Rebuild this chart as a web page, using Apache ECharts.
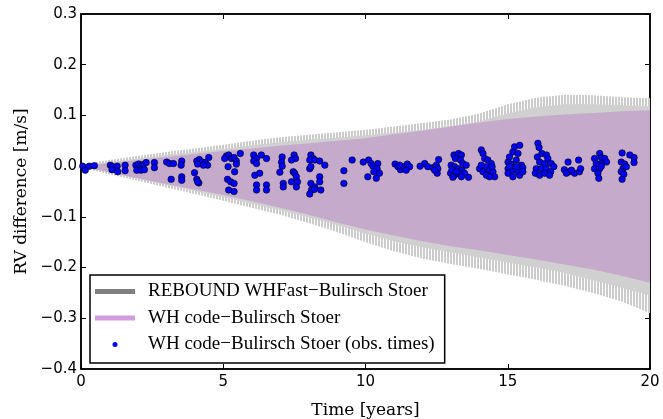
<!DOCTYPE html>
<html><head><meta charset="utf-8">
<script src="https://cdn.jsdelivr.net/npm/echarts@6/dist/echarts.min.js"></script>
<style>html,body{margin:0;padding:0;background:#fff}#c{width:663px;height:419px}</style>
</head><body><div id="c"></div>
<script>
// envelope sample times (years)
const envT = [0,1,2,3,4,5,6,7,8,9,10,11,12,13,14,15,16,17,18,19,20];
// REBOUND WHFast - Bulirsch Stoer: outer tips of the oscillation (m/s)
const grayUpper = [0.003,0.012,0.020,0.028,0.035,0.042,0.050,0.057,0.062,0.067,0.072,0.078,0.085,0.092,0.104,0.122,0.135,0.141,0.140,0.136,0.134];
const grayLower = [-0.003,-0.016,-0.029,-0.042,-0.055,-0.068,-0.082,-0.096,-0.112,-0.130,-0.150,-0.168,-0.182,-0.193,-0.203,-0.213,-0.224,-0.236,-0.250,-0.267,-0.290];
// REBOUND WHFast - Bulirsch Stoer: solid part of the oscillation (m/s)
const grayUpperBase = [0.001,0.008,0.015,0.022,0.028,0.034,0.041,0.047,0.052,0.056,0.061,0.066,0.072,0.078,0.088,0.104,0.116,0.122,0.122,0.120,0.118];
const grayLowerBase = [-0.001,-0.013,-0.025,-0.037,-0.049,-0.061,-0.074,-0.087,-0.101,-0.116,-0.133,-0.148,-0.160,-0.170,-0.180,-0.190,-0.200,-0.210,-0.225,-0.240,-0.255];
// WH code - Bulirsch Stoer envelope (m/s)
const whUpper = [0.000,0.006,0.012,0.018,0.024,0.030,0.035,0.040,0.045,0.050,0.055,0.063,0.070,0.078,0.086,0.093,0.098,0.102,0.105,0.108,0.110];
const whLower = [0.000,-0.012,-0.024,-0.035,-0.046,-0.057,-0.069,-0.082,-0.096,-0.111,-0.125,-0.137,-0.148,-0.158,-0.166,-0.175,-0.184,-0.194,-0.204,-0.216,-0.230];
// observation times (years) and RV difference (m/s)
const obsTimes = [0.06,0.15,0.29,0.47,1.03,1.10,1.17,1.27,1.29,1.09,1.55,1.55,1.93,2.03,2.11,2.19,2.29,1.96,2.11,2.23,2.58,2.58,3.01,3.11,3.25,3.54,3.52,3.17,3.54,3.54,4.07,4.16,4.26,4.37,4.45,4.49,4.30,4.10,3.99,4.07,4.14,4.10,
5.11,5.19,5.29,5.38,5.46,5.46,5.05,5.17,5.40,5.15,5.26,5.38,5.19,5.38,5.60,6.07,6.17,6.34,6.52,6.07,6.17,6.28,6.11,6.17,6.17,6.52,6.52,7.07,7.05,7.07,6.99,7.11,7.11,7.49,7.54,7.40,7.46,7.51,7.57,7.61,7.40,7.57,8.08,8.16,8.04,8.22,8.39,8.57,8.04,8.08,8.39,8.39,8.08,8.22,8.10,8.04,8.43,8.20,9.24,9.24,9.53,9.92,
10.11,10.08,10.20,10.26,10.43,10.41,10.49,10.38,10.29,11.04,11.14,11.23,11.35,11.47,11.55,11.43,11.20,11.92,12.08,12.19,12.37,12.49,12.57,12.54,12.52,12.43,
13.11,13.27,13.37,13.16,13.34,13.42,13.54,13.01,13.13,13.25,13.39,13.48,13.62,12.99,13.13,13.27,13.37,13.07,13.04,13.19,
14.07,14.13,14.01,14.19,14.30,14.42,14.25,14.36,14.48,14.54,14.13,14.25,14.36,14.07,14.45,
15.24,15.42,15.18,15.36,15.06,15.01,15.12,15.30,15.48,15.53,15.01,15.18,15.36,15.01,15.18,15.42,15.53,15.07,15.30,
16.06,16.10,16.20,16.04,16.36,16.41,16.12,16.30,16.53,16.62,16.00,16.18,16.35,16.51,15.97,16.12,16.30,16.47,
17.12,17.49,16.99,17.17,17.35,17.52,17.56,17.06,17.24,
18.23,18.05,18.29,18.41,18.47,18.11,18.29,18.05,18.23,18.17,18.20,18.29,
19.02,19.29,19.44,19.44,18.99,19.11,19.05,19.17,18.99,19.08,19.02];
const obsRV = [0.000,-0.008,0.000,0.001,0.002,-0.001,-0.006,0.000,-0.011,-0.007,0.002,-0.009,0.002,0.004,0.000,0.003,0.007,-0.008,-0.008,-0.007,0.007,-0.003,0.008,0.005,0.005,0.010,0.002,-0.026,-0.021,-0.028,0.010,0.013,0.008,0.007,0.002,0.017,0.002,0.004,-0.013,-0.026,-0.033,-0.031,
0.020,0.022,0.015,0.017,0.010,0.004,0.015,-0.001,-0.011,-0.026,-0.031,-0.034,-0.047,-0.050,0.025,0.022,0.015,0.022,0.015,0.010,0.005,-0.014,-0.018,-0.037,-0.047,-0.037,-0.047,0.018,0.008,0.000,-0.012,-0.034,-0.041,0.022,0.015,0.012,-0.011,-0.014,-0.021,-0.031,-0.031,-0.041,0.022,0.015,0.012,0.012,0.010,0.002,-0.005,-0.001,-0.021,-0.031,-0.034,-0.041,-0.047,-0.055,-0.047,-0.046,-0.009,-0.034,0.012,0.008,
0.012,-0.021,0.005,0.000,0.005,-0.005,-0.014,-0.024,-0.011,0.004,-0.001,-0.007,-0.001,0.004,-0.001,-0.008,0.002,0.000,0.005,-0.001,-0.003,0.002,0.013,-0.005,-0.014,-0.008,
0.022,0.025,0.022,0.015,0.012,0.005,0.002,0.002,-0.001,-0.005,-0.008,-0.014,-0.022,-0.014,-0.018,-0.014,-0.021,-0.022,-0.007,-0.011,
0.032,0.025,-0.005,0.015,0.012,0.005,-0.001,-0.008,-0.011,-0.021,-0.011,-0.018,-0.021,0.002,-0.001,
0.038,0.041,0.028,0.025,0.018,0.008,0.004,0.012,0.002,-0.003,-0.005,-0.008,-0.011,-0.014,-0.021,-0.018,-0.011,-0.001,-0.001,
0.045,0.037,0.025,0.018,0.022,0.015,0.008,0.005,0.005,-0.001,-0.005,-0.005,-0.005,-0.011,-0.014,-0.018,-0.014,-0.018,
0.008,0.012,-0.007,-0.011,-0.014,-0.011,-0.005,-0.014,-0.008,
0.025,0.015,0.017,0.015,0.008,0.005,0.005,-0.005,-0.005,-0.014,-0.024,0.000,
0.026,0.022,0.017,0.007,0.008,0.004,-0.005,-0.001,-0.011,-0.016,-0.026];
const xTickValues = [0,5,10,15,20];

const NAME_GRAY = 'REBOUND WHFast\u2212Bulirsch Stoer';
const NAME_WH = 'WH code\u2212Bulirsch Stoer';
const NAME_OBS = 'WH code\u2212Bulirsch Stoer (obs. times)';

// vertical stripe pattern to suggest the fast oscillation spikes
const stripe = document.createElement('canvas');
stripe.width = 3; stripe.height = 4;
(function () {
  const g = stripe.getContext('2d');
  g.fillStyle = '#ffffff'; g.fillRect(0, 0, 3, 4);
  g.fillStyle = '#cbcbcb'; g.fillRect(0, 0, 2, 4);
})();

function bandSeries(name, upper, lower, fill, z) {
  return {
    type: 'custom', name: name, z: z, silent: true, clip: true,
    data: [[envT[0], upper[0]]],
    itemStyle: {color: '#808080'},
    renderItem: function (params, api) {
      const pts = [];
      for (let i = 0; i < envT.length; i++) pts.push(api.coord([envT[i], upper[i]]));
      for (let i = envT.length - 1; i >= 0; i--) pts.push(api.coord([envT[i], lower[i]]));
      return {type: 'polygon', shape: {points: pts}, style: {fill: fill, stroke: null}};
    }
  };
}

const chart = echarts.init(document.getElementById('c'), null, {renderer: 'canvas'});
const fmtY = v => (Math.abs(v) < 1e-9 ? '0.0' : v.toFixed(1).replace('-', '\u2212'));
const serif = 'DejaVu Serif';
const gray1 = bandSeries(NAME_GRAY, grayUpper, grayLower, {image: stripe, repeat: 'repeat'}, 1);
const gray2 = bandSeries(NAME_GRAY, grayUpperBase, grayLowerBase, '#d0d0d0', 1.5);
const wh = bandSeries(NAME_WH, whUpper, whLower, '#c5aacb', 2);
wh.itemStyle = {color: '#d39be0'};
const lineSt = {color: '#000', width: 1.5};
const tickSt = {show: true, inside: true, length: 5, lineStyle: {color: '#000', width: 1}};
chart.setOption({
  animation: false,
  backgroundColor: '#fff',
  grid: {left: 81, right: 13, top: 14, bottom: 50, containLabel: false, outerBoundsMode: 'none',
         show: true, borderColor: '#000', borderWidth: 1.5, backgroundColor: 'transparent'},
  xAxis: [
    {type: 'value', min: 0, max: 20, interval: 5, position: 'bottom',
     name: 'Time [years]', nameLocation: 'middle', nameGap: 33,
     nameTextStyle: {fontFamily: serif, fontSize: 17, color: '#000'},
     axisLine: {show: true, onZero: false, lineStyle: lineSt},
     axisTick: tickSt,
     axisLabel: {fontFamily: 'DejaVu Sans', fontSize: 15, color: '#000', margin: 6,
       customValues: xTickValues, formatter: v => String(v)},
     splitLine: {show: false}},
    {type: 'value', min: 0, max: 20, interval: 5, position: 'top',
     axisLine: {show: true, onZero: false, lineStyle: lineSt},
     axisTick: tickSt,
     axisLabel: {show: false}, splitLine: {show: false}}
  ],
  yAxis: [
    {type: 'value', min: -0.4, max: 0.3, interval: 0.1, position: 'left',
     name: 'RV difference [m/s]', nameLocation: 'middle', nameGap: 51,
     nameTextStyle: {fontFamily: serif, fontSize: 17, color: '#000'},
     axisLine: {show: true, onZero: false, lineStyle: lineSt},
     axisTick: tickSt,
     axisLabel: {fontFamily: 'DejaVu Sans', fontSize: 15, color: '#000', margin: 4, formatter: fmtY},
     splitLine: {show: false}},
    {type: 'value', min: -0.4, max: 0.3, interval: 0.1, position: 'right',
     axisLine: {show: true, onZero: false, lineStyle: lineSt},
     axisTick: tickSt,
     axisLabel: {show: false}, splitLine: {show: false}}
  ],
  legend: {
    orient: 'vertical', left: 90, top: 275, selectedMode: false,
    backgroundColor: '#fff', borderColor: '#000', borderWidth: 1.5,
    padding: [7, 10, 9, 5], itemGap: 7.5, itemWidth: 40, itemHeight: 5,
    textStyle: {fontFamily: 'Liberation Serif', fontSize: 19, color: '#000', lineHeight: 18, padding: [0, 0, 0, 8]},
    data: [
      {name: NAME_GRAY, icon: 'rect', itemStyle: {color: '#808080'}},
      {name: NAME_WH, icon: 'rect', itemStyle: {color: '#d39be0'}},
      {name: NAME_OBS, icon: 'circle', itemStyle: {color: '#0000ff', borderWidth: 0}}
    ]
  },
  series: [
    gray1, gray2, wh,
    {type: 'scatter', name: NAME_OBS, z: 3, symbol: 'circle', symbolSize: 6.5,
     itemStyle: {color: '#0000ff', borderColor: '#000', borderWidth: 0.6, opacity: 1},
     data: obsTimes.map((t, i) => [t, obsRV[i]])}
  ]
});
</script></body></html>
